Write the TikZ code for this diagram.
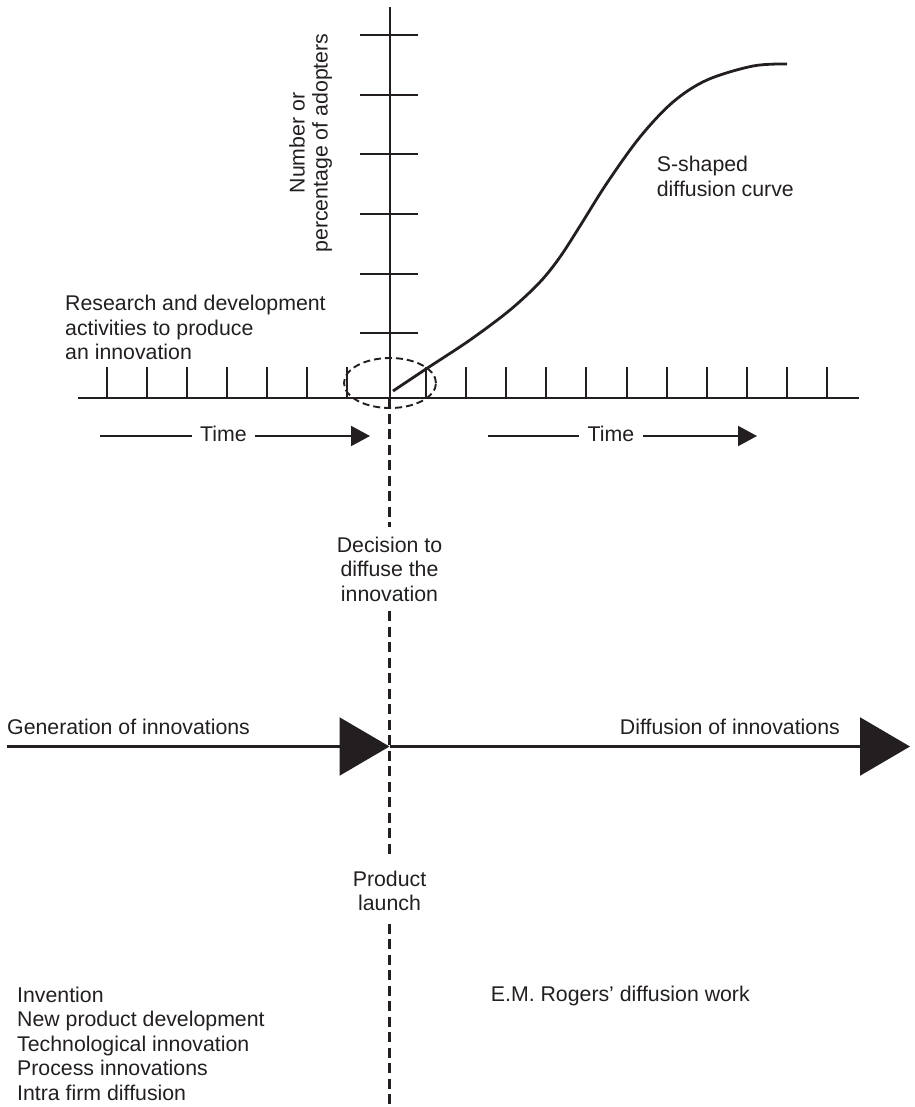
\documentclass[tikz,border=0pt]{standalone}
\usepackage{fontspec}
\setmainfont{Liberation Sans}
\usetikzlibrary{arrows.meta}
\definecolor{ink}{RGB}{35,31,32}
\begin{document}
\begin{tikzpicture}[x=1bp,y=-1bp, draw=ink,
  lbl/.style={inner sep=0pt, text=ink, font=\fontsize{21.3bp}{24.5bp}\selectfont},
  axisline/.style={line width=2bp},
  tickline/.style={line width=2bp},
  guide/.style={line width=2.2bp, dash pattern=on 10bp off 5.5bp},
  ring/.style={line width=1.9bp, dash pattern=on 7bp off 4bp},
  timearrow/.style={line width=2bp, -{Triangle[length=19bp,width=20bp]}},
  flowarrow/.style={line width=2.2bp, -{Triangle[length=50bp,width=58bp]}},
  sigmoid/.style={line width=2.8bp}
]
\useasboundingbox (0,0) rectangle (915,1107);

% axes
\coordinate (O) at (389.5,398.3);
\coordinate (ytop) at (389.5,7);
\coordinate (xl) at (78,398.3);
\coordinate (xr) at (859,398.3);
\coordinate (bot) at (389.5,1107);
\draw[axisline] (xl) -- (xr);
\draw[axisline] (O) -- (ytop);

% ticks on the time axis
\foreach \k in {0,...,6}
  \draw[tickline] (106.7+40*\k,398.3) -- (106.7+40*\k,367.3);
\foreach \k in {0,...,10}
  \draw[tickline] (426+40.1*\k,398.3) -- (426+40.1*\k,367.3);

% ticks on the adopters axis
\foreach \k in {0,...,5}
  \draw[tickline] (360,35+59.67*\k) -- (418,35+59.67*\k);

% ring around the origin
\draw[ring] (390,383) ellipse [x radius=46bp, y radius=25bp];

% S-shaped diffusion curve
\draw[sigmoid] plot[smooth, tension=0.55] coordinates {
  (393,391) (426,369) (470,340) (510,310) (540,282) (560,257)
  (580,226) (607,183) (640,137) (673,102) (707,80) (753,66) (787,64)};

% labels
\node[lbl, anchor=north west, align=left] (rd) at (65,295)
  {Research and development\\activities to produce\\an innovation};
\node[lbl, rotate=90, align=center, font=\fontsize{21.3bp}{23bp}\selectfont] (yl) at (310.6,143)
  {Number or\\percentage of adopters};
\node[lbl, anchor=north west, align=left, font=\fontsize{21.3bp}{25bp}\selectfont] (sc) at (656.7,156)
  {S-shaped\\diffusion curve};

% time arrows
\node[lbl, inner xsep=8bp] (t1) at (223.5,434) {Time};
\node[lbl, inner xsep=9bp] (t2) at (611,434) {Time};
\coordinate (t1a) at (100,436);
\coordinate (t1b) at (370,436);
\coordinate (t2a) at (488,436);
\coordinate (t2b) at (757,436);
\draw[timearrow, -] (t1a) -- (t1a -| t1.west);
\draw[timearrow] (t1b -| t1.east) -- (t1b);
\draw[timearrow, -] (t2a) -- (t2a -| t2.west);
\draw[timearrow] (t2b -| t2.east) -- (t2b);

% decision line
\node[lbl, anchor=north, align=center, inner ysep=9.7bp] (dec) at (389.5,527)
  {Decision to\\diffuse the\\innovation};
\node[lbl, anchor=north, align=center, inner ysep=12.7bp] (pl) at (389.5,858)
  {Product\\launch};
\draw[guide] (O) -- (dec.north);
\draw[guide] (dec.south) -- (pl.north);
\draw[guide] (pl.south) -- (bot);

% generation and diffusion arrows
\coordinate (gl) at (7,746.5);
\coordinate (mid) at (389.5,746.5);
\coordinate (dr) at (910,746.5);
\draw[flowarrow] (gl) -- (mid);
\draw[flowarrow] (mid) -- (dr);
\node[lbl, anchor=base west] (gen) at (7,734) {Generation of innovations};
\node[lbl, anchor=base east] (dif) at (840,734) {Diffusion of innovations};

% bottom notes
\node[lbl, anchor=north west, align=left] (list) at (17,986.7)
  {Invention\\New product development\\Technological innovation\\Process innovations\\Intra firm diffusion};
\node[lbl, anchor=base west] (emr) at (490.7,1001) {E.M. Rogers’ diffusion work};
\end{tikzpicture}
\end{document}
